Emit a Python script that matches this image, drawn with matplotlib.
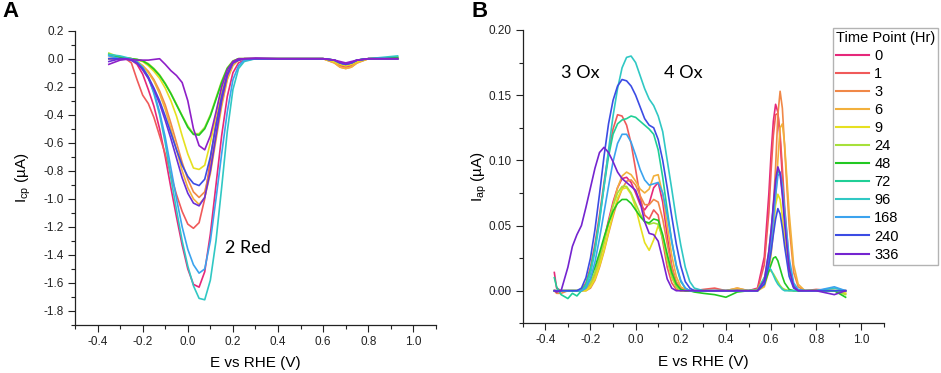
import matplotlib
matplotlib.use("Agg")
import matplotlib.pyplot as plt
from matplotlib.ticker import MultipleLocator, FormatStrFormatter

plt.rcParams['font.family'] = ['Liberation Sans', 'DejaVu Sans']
plt.rcParams['mathtext.fontset'] = 'custom'
plt.rcParams['mathtext.rm'] = 'Liberation Sans'
plt.rcParams['mathtext.it'] = 'Liberation Sans:italic'

# ---------------- data ----------------
time_points = ['0', '1', '3', '6', '9', '24', '48', '72', '96', '168', '240', '336']
colors = ['#e6287a', '#f05a5a', '#f08848', '#f2b03c', '#e6e020', '#a6e03a',
          '#22c822', '#20cf96', '#30c8c4', '#3ba3ee', '#3c4ce4', '#7424d0']

# Panel A: cathodic current (uA) vs E (V)
xA = [-0.35, -0.3, -0.275, -0.25, -0.225, -0.2, -0.175, -0.15, -0.125, -0.1,
      -0.075, -0.05, -0.025, 0.0, 0.025, 0.05, 0.075, 0.1, 0.125, 0.15,
      0.175, 0.2, 0.225, 0.25, 0.3, 0.4, 0.6, 0.65, 0.675, 0.7,
      0.725, 0.75, 0.8, 0.93]
A_magenta = [0.0, 0.0, 0.0, -0.01, -0.04, -0.11, -0.22, -0.34, -0.5, -0.7,
             -0.92, -1.13, -1.33, -1.5, -1.61, -1.63, -1.52, -1.25, -0.9, -0.55,
             -0.27, -0.1, -0.03, -0.01, 0.0, 0.0, 0.0, -0.02, -0.04, -0.05,
             -0.04, -0.02, 0.0, 0.0]
A_red = [0.0, 0.0, 0.0, -0.03, -0.15, -0.26, -0.32, -0.42, -0.55, -0.68,
         -0.83, -0.97, -1.09, -1.18, -1.21, -1.17, -1.0, -0.72, -0.45, -0.24,
         -0.1, -0.03, -0.01, 0.0, 0.0, 0.0, 0.0, -0.02, -0.05, -0.06,
         -0.05, -0.02, 0.0, 0.0]
A_orange = [0.0, 0.01, 0.005, 0.0, -0.02, -0.05, -0.09, -0.15, -0.23, -0.33,
            -0.46, -0.6, -0.74, -0.86, -0.95, -0.99, -0.95, -0.78, -0.55, -0.32,
            -0.14, -0.04, -0.01, 0.0, 0.0, 0.0, 0.0, -0.03, -0.06, -0.07,
            -0.06, -0.03, 0.0, 0.0]
A_lightorange = [0.0, 0.01, 0.005, 0.0, -0.02, -0.05, -0.1, -0.16, -0.25, -0.36,
                 -0.5, -0.65, -0.8, -0.92, -1.0, -1.04, -0.99, -0.82, -0.58, -0.34,
                 -0.15, -0.05, -0.01, 0.0, 0.0, 0.0, 0.0, -0.03, -0.06, -0.07,
                 -0.06, -0.03, 0.0, 0.0]
A_yellow = [0.03, 0.01, 0.005, 0.0, -0.01, -0.02, -0.05, -0.09, -0.14, -0.21,
            -0.3, -0.41, -0.55, -0.68, -0.78, -0.79, -0.76, -0.6, -0.4, -0.22,
            -0.09, -0.02, 0.0, 0.0, 0.0, 0.0, 0.0, -0.02, -0.04, -0.05,
            -0.04, -0.02, 0.0, 0.0]
A_lime = [0.04, 0.01, 0.005, 0.0, -0.005, -0.015, -0.035, -0.07, -0.115, -0.175,
          -0.245, -0.325, -0.405, -0.48, -0.535, -0.535, -0.49, -0.4, -0.28, -0.16,
          -0.065, -0.015, 0.0, 0.0, 0.0, 0.0, 0.0, -0.01, -0.03, -0.04,
          -0.03, -0.01, 0.0, 0.01]
A_green = [0.03, 0.01, 0.005, 0.0, -0.005, -0.015, -0.04, -0.075, -0.12, -0.18,
           -0.25, -0.33, -0.41, -0.49, -0.54, -0.545, -0.5, -0.41, -0.29, -0.17,
           -0.07, -0.02, 0.0, 0.0, 0.0, 0.0, 0.0, -0.01, -0.03, -0.035,
           -0.03, -0.01, 0.0, 0.01]
A_cyan = [0.03, 0.02, 0.01, 0.0, -0.02, -0.06, -0.13, -0.25, -0.4, -0.6,
          -0.85, -1.08, -1.3, -1.48, -1.62, -1.71, -1.72, -1.58, -1.3, -0.92,
          -0.52, -0.22, -0.07, -0.02, 0.0, 0.0, 0.0, -0.01, -0.03, -0.04,
          -0.03, -0.01, 0.0, 0.02]
A_lightblue = [0.02, 0.0, 0.0, -0.01, -0.03, -0.07, -0.14, -0.24, -0.38, -0.56,
               -0.78, -1.0, -1.2, -1.36, -1.47, -1.53, -1.5, -1.3, -1.0, -0.68,
               -0.38, -0.15, -0.05, -0.01, 0.0, 0.0, 0.0, -0.01, -0.03, -0.04,
               -0.03, -0.01, 0.0, 0.0]
A_blue = [0.0, 0.0, 0.0, -0.01, -0.03, -0.07, -0.13, -0.21, -0.3, -0.41,
          -0.53, -0.65, -0.76, -0.84, -0.89, -0.905, -0.86, -0.7, -0.48, -0.27,
          -0.11, -0.03, -0.01, 0.0, 0.0, 0.0, 0.0, -0.01, -0.03, -0.04,
          -0.03, -0.01, 0.0, 0.0]
A_violet = [-0.02, 0.0, 0.0, -0.01, -0.03, -0.08, -0.14, -0.22, -0.32, -0.44,
            -0.57, -0.71, -0.85, -0.96, -1.03, -1.05, -0.99, -0.8, -0.55, -0.3,
            -0.12, -0.03, -0.01, 0.0, 0.0, 0.0, 0.0, -0.01, -0.03, -0.04,
            -0.03, -0.01, 0.0, 0.0]
A_purple = [-0.04, -0.01, -0.005, -0.005, -0.01, -0.01, -0.01, -0.005, 0.0, -0.04,
            -0.085, -0.12, -0.17, -0.3, -0.5, -0.62, -0.65, -0.55, -0.38, -0.2,
            -0.08, -0.02, 0.0, 0.0, 0.005, 0.0, 0.0, -0.01, -0.02, -0.03,
            -0.02, -0.01, 0.0, 0.0]
A_series = [A_magenta, A_red, A_orange, A_lightorange, A_yellow, A_lime,
            A_green, A_cyan, A_lightblue, A_blue, A_violet, A_purple]
A_colors = ['#e6287a', '#f05a5a', '#f08848', '#f2b03c', '#e6e020', '#a6e03a',
            '#22c822', '#30c8c4', '#3ba3ee', '#3c4ce4', '#6a30d8', '#8e1fc8']

# Panel B: anodic current (uA) vs E (V)
xB = [-0.36, -0.35, -0.33, -0.3, -0.28, -0.26, -0.24, -0.22, -0.2, -0.18,
      -0.16, -0.14, -0.12, -0.1, -0.08, -0.06, -0.04, -0.02, 0.0, 0.02,
      0.04, 0.06, 0.08, 0.1, 0.12, 0.14, 0.16, 0.18, 0.2, 0.22,
      0.24, 0.26, 0.3, 0.35, 0.4, 0.45, 0.5, 0.54, 0.57, 0.59,
      0.6, 0.61, 0.62, 0.63, 0.64, 0.65, 0.66, 0.68, 0.7, 0.72,
      0.75, 0.8, 0.88, 0.93]
B_0 = [0.014, 0.002, 0.0, 0.0, 0.0, 0.0, 0.0, 0.001, 0.005, 0.013,
       0.025, 0.039, 0.054, 0.068, 0.079, 0.086, 0.087, 0.083, 0.075, 0.066,
       0.062, 0.067, 0.079, 0.083, 0.068, 0.042, 0.019, 0.006, 0.001, 0.0,
       0.0, 0.0, 0.0, 0.0, 0.0, 0.0, 0.0, 0.002, 0.026, 0.074,
       0.105, 0.13, 0.143, 0.137, 0.116, 0.087, 0.057, 0.017, 0.003, 0.0,
       0.0, 0.0, 0.0, 0.0]
B_1 = [0.0, 0.0, 0.0, 0.0, 0.0, 0.0, 0.001, 0.006, 0.018, 0.036,
       0.058, 0.083, 0.106, 0.124, 0.135, 0.134, 0.127, 0.113, 0.093, 0.072,
       0.058, 0.055, 0.062, 0.058, 0.038, 0.018, 0.006, 0.001, 0.0, 0.0,
       0.0, 0.0, 0.001, 0.002, 0.0, 0.001, 0.0, 0.001, 0.02, 0.06,
       0.092, 0.119, 0.135, 0.136, 0.12, 0.094, 0.065, 0.021, 0.004, 0.0,
       0.0, 0.001, 0.0, 0.0]
B_3 = [0.0, -0.002, -0.002, 0.0, 0.0, 0.0, 0.0, 0.0, 0.002, 0.008,
       0.018, 0.03, 0.044, 0.057, 0.069, 0.078, 0.084, 0.085, 0.081, 0.073,
       0.066, 0.066, 0.07, 0.068, 0.055, 0.036, 0.018, 0.007, 0.002, 0.0,
       0.0, 0.0, 0.0, 0.0, 0.0, 0.002, 0.0, 0.0, 0.005, 0.024,
       0.04, 0.065, 0.095, 0.135, 0.153, 0.14, 0.11, 0.05, 0.014, 0.003,
       0.0, 0.0, 0.0, -0.002]
B_6 = [0.0, -0.001, 0.0, 0.0, 0.0, 0.0, 0.0, 0.001, 0.004, 0.011,
       0.022, 0.036, 0.051, 0.066, 0.079, 0.088, 0.091, 0.089, 0.084, 0.078,
       0.075, 0.078, 0.088, 0.089, 0.074, 0.05, 0.027, 0.011, 0.003, 0.001,
       0.0, 0.0, 0.0, 0.0, 0.0, 0.002, 0.0, 0.0, 0.003, 0.015,
       0.028, 0.045, 0.07, 0.1, 0.125, 0.128, 0.112, 0.06, 0.02, 0.005,
       0.0, 0.0, 0.0, 0.0]
B_9 = [0.0, 0.0, 0.0, 0.0, 0.0, 0.0, 0.0, 0.0, 0.003, 0.009,
       0.019, 0.031, 0.045, 0.059, 0.071, 0.078, 0.079, 0.074, 0.064, 0.05,
       0.037, 0.031, 0.039, 0.05, 0.042, 0.024, 0.01, 0.003, 0.0, 0.0,
       0.0, 0.0, 0.0, 0.0, 0.0, 0.0, 0.0, 0.0, 0.006, 0.022,
       0.035, 0.052, 0.066, 0.074, 0.07, 0.057, 0.04, 0.013, 0.003, 0.0,
       0.0, 0.0, 0.0, -0.002]
B_24 = [0.0, 0.0, 0.0, 0.0, 0.0, 0.0, 0.0, 0.002, 0.006, 0.014,
        0.025, 0.038, 0.052, 0.065, 0.075, 0.08, 0.08, 0.075, 0.067, 0.059,
        0.053, 0.051, 0.052, 0.051, 0.04, 0.024, 0.011, 0.003, 0.0, 0.0,
        0.0, 0.0, 0.0, 0.0, 0.0, 0.0, 0.0, 0.001, 0.01, 0.016,
        0.015, 0.013, 0.01, 0.007, 0.004, 0.002, 0.001, 0.0, 0.0, 0.0,
        0.0, 0.0, 0.0, -0.003]
B_48 = [0.0, 0.0, 0.0, 0.0, 0.0, 0.0, 0.0, 0.003, 0.009, 0.018,
        0.029, 0.041, 0.052, 0.061, 0.067, 0.07, 0.07, 0.067, 0.062, 0.057,
        0.053, 0.052, 0.055, 0.054, 0.043, 0.028, 0.014, 0.005, 0.001, 0.0,
        0.0, -0.001, -0.002, -0.003, -0.005, -0.001, 0.0, 0.0, 0.005, 0.015,
        0.02, 0.025, 0.026, 0.023, 0.017, 0.011, 0.006, 0.001, 0.0, 0.0,
        0.0, 0.0, 0.0, -0.005]
B_72 = [0.01, 0.003, -0.003, -0.006, -0.002, -0.004, 0.0, 0.005, 0.016, 0.033,
        0.055, 0.08, 0.103, 0.12, 0.128, 0.131, 0.132, 0.134, 0.133, 0.13,
        0.127, 0.124, 0.12, 0.108, 0.087, 0.062, 0.038, 0.019, 0.007, 0.002,
        0.0, 0.0, 0.0, 0.0, 0.0, 0.0, 0.0, 0.0, 0.008, 0.03,
        0.046, 0.064, 0.081, 0.092, 0.09, 0.076, 0.055, 0.02, 0.004, 0.0,
        0.0, 0.0, 0.0, 0.0]
B_96 = [0.0, 0.0, 0.0, 0.0, 0.0, 0.0, 0.0, 0.003, 0.013, 0.03,
        0.053, 0.08, 0.108, 0.134, 0.155, 0.171, 0.179, 0.18, 0.175, 0.165,
        0.155, 0.147, 0.142, 0.134, 0.122, 0.1, 0.078, 0.055, 0.035, 0.018,
        0.007, 0.002, 0.0, 0.0, 0.0, 0.0, 0.0, 0.0, 0.01, 0.018,
        0.016, 0.012, 0.008, 0.005, 0.003, 0.001, 0.0, 0.0, 0.0, 0.0,
        0.0, 0.0, 0.002, 0.0]
B_168 = [0.0, 0.0, 0.0, 0.0, 0.0, 0.0, 0.0, 0.002, 0.009, 0.022,
         0.04, 0.06, 0.08, 0.099, 0.113, 0.12, 0.12, 0.114, 0.104, 0.093,
         0.085, 0.081, 0.082, 0.083, 0.075, 0.058, 0.038, 0.02, 0.008, 0.002,
         0.0, 0.0, 0.0, 0.0, 0.0, 0.0, 0.0, 0.0, 0.006, 0.024,
         0.038, 0.055, 0.073, 0.088, 0.091, 0.081, 0.062, 0.025, 0.006, 0.001,
         0.0, 0.0, 0.003, 0.0]
B_240 = [0.0, 0.0, 0.0, 0.0, 0.0, 0.0, 0.002, 0.01, 0.025, 0.047,
         0.074, 0.103, 0.128, 0.146, 0.157, 0.162, 0.161, 0.157, 0.15, 0.141,
         0.132, 0.127, 0.125, 0.116, 0.1, 0.079, 0.057, 0.036, 0.019, 0.007,
         0.002, 0.0, 0.0, 0.0, 0.0, 0.0, 0.0, 0.0, 0.005, 0.02,
         0.03, 0.043, 0.055, 0.063, 0.059, 0.048, 0.034, 0.011, 0.002, 0.0,
         0.0, 0.0, 0.0, 0.0]
B_336 = [0.0, -0.001, 0.0, 0.018, 0.034, 0.043, 0.05, 0.064, 0.079, 0.094,
         0.106, 0.11, 0.106, 0.099, 0.091, 0.086, 0.083, 0.08, 0.077, 0.068,
         0.053, 0.044, 0.043, 0.038, 0.024, 0.009, 0.002, 0.0, 0.0, 0.0,
         0.0, 0.0, 0.0, 0.0, 0.0, 0.0, 0.0, 0.0, 0.008, 0.03,
         0.046, 0.066, 0.085, 0.095, 0.09, 0.073, 0.052, 0.017, 0.003, 0.0,
         0.0, 0.0, -0.003, 0.0]
B_series = [B_0, B_1, B_3, B_6, B_9, B_24, B_48, B_72, B_96, B_168, B_240, B_336]

# ---------------- figure ----------------
fig = plt.figure(figsize=(9.41, 3.73), dpi=100)
axA = fig.add_axes([0.0797, 0.1287, 0.3836, 0.789])
axB = fig.add_axes([0.5555, 0.1332, 0.3839, 0.7864])

for ys, c in zip(A_series, A_colors):
    axA.plot(xA, ys, color=c, lw=1.2)
for ys, c, lab in zip(B_series, colors, time_points):
    axB.plot(xB, ys, color=c, lw=1.2, label=lab)

def style(ax):
    for s in ['top', 'right']:
        ax.spines[s].set_visible(False)
    for s in ['left', 'bottom']:
        ax.spines[s].set_linewidth(0.9)
        ax.spines[s].set_color('#222222')
    ax.tick_params(which='major', direction='out', length=5, width=0.8,
                   labelsize=8.5, colors='#222222', pad=3)
    ax.tick_params(which='minor', direction='out', length=3, width=0.8, colors='#222222')
    ax.xaxis.set_major_locator(MultipleLocator(0.2))
    ax.xaxis.set_minor_locator(MultipleLocator(0.1))
    ax.xaxis.set_major_formatter(FormatStrFormatter('%.1f'))
    ax.set_xlim(-0.5, 1.1)
    ax.set_xlabel('E vs RHE (V)', fontsize=11, labelpad=6)

style(axA)
style(axB)
axA.set_ylim(-1.9, 0.2)
axA.yaxis.set_major_locator(MultipleLocator(0.2))
axA.yaxis.set_minor_locator(MultipleLocator(0.1))
axA.yaxis.set_major_formatter(FormatStrFormatter('%.1f'))
axA.set_ylabel(r'I$_{\mathrm{cp}}$ (µA)', fontsize=11)
axA.yaxis.set_label_coords(-0.117, 0.5)

axB.set_ylim(-0.025, 0.2)
axB.yaxis.set_major_locator(MultipleLocator(0.05))
axB.yaxis.set_minor_locator(MultipleLocator(0.025))
axB.yaxis.set_major_formatter(FormatStrFormatter('%.2f'))
axB.set_ylabel(r'I$_{\mathrm{ap}}$ (µA)', fontsize=11)
axB.yaxis.set_label_coords(-0.093, 0.5)

axA.text(0.165, -1.35, '2 Red', fontsize=13, family='Lato', va='center', ha='left')
axB.text(-0.33, 0.167, '3 Ox', fontsize=13, family='Lato', va='center', ha='left')
axB.text(0.127, 0.167, '4 Ox', fontsize=13, family='Lato', va='center', ha='left')

fig.text(0.003, 0.997, 'A', fontsize=16, fontweight='bold', va='top', ha='left')
fig.text(0.501, 0.997, 'B', fontsize=16, fontweight='bold', va='top', ha='left')

leg = axB.legend(title='Time Point (Hr)', loc='upper left',
                 bbox_to_anchor=(833.3 / 941, 1 - 27.7 / 373),
                 bbox_transform=fig.transFigure, fontsize=10.5, title_fontsize=10.5,
                 frameon=True, fancybox=False, borderaxespad=0, borderpad=0.2,
                 labelspacing=0.28, handlelength=2.25, handletextpad=0.35,
                 alignment='left')
leg.get_frame().set_edgecolor('#a0a0a0')
leg.get_frame().set_linewidth(1.0)
for ln in leg.get_lines():
    ln.set_linewidth(1.5)

fig.savefig('out.png', dpi=100)
